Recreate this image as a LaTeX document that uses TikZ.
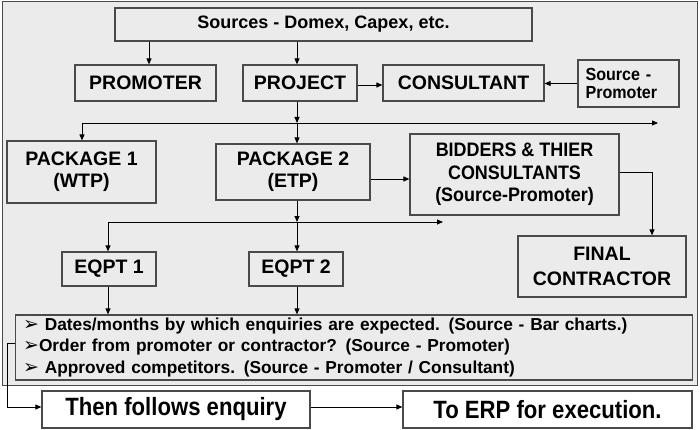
\documentclass[tikz,border=0pt]{standalone}
\usepackage{fontspec}
\setmainfont{Liberation Sans}
\newfontfamily\dejavu{DejaVu Sans}
\newfontfamily\condA[FakeStretch=0.885]{Liberation Sans}
\newfontfamily\condB[FakeStretch=0.92]{Liberation Sans}
\usetikzlibrary{arrows.meta}
\definecolor{bgray}{HTML}{EBEBEB}
\definecolor{boxline}{HTML}{4A4A4A}
\newcommand{\blt}{{\dejavu\mdseries\fontsize{19}{19}\selectfont ➢}}
\begin{document}
\begin{tikzpicture}[x=1pt,y=-1pt,
  box/.style={draw=boxline, line width=1.2pt, fill=bgray, inner sep=0pt, align=center,
    font=\bfseries\fontsize{19.5}{22}\selectfont},
  arr/.style={draw=black, line width=0.9pt, -{Triangle[length=6pt,width=5pt]}},
  ln/.style={draw=black, line width=0.9pt}]
\useasboundingbox (0,0) rectangle (700,430);
\fill[white] (0,0) rectangle (700,430);
\draw[boxline, line width=1pt, fill=bgray] (2,1.5) rectangle (697.5,385);

% boxes
\node[box, minimum width=417pt, minimum height=33pt, font=\bfseries\fontsize{18}{20}\selectfont] (src) at (323.5,24.5) {Sources - Domex, Capex, etc.};
\node[box, minimum width=141pt, minimum height=36pt] (prom) at (145.5,83) {PROMOTER};
\node[box, minimum width=114pt, minimum height=36pt] (proj) at (300,83) {PROJECT};
\node[box, minimum width=161pt, minimum height=36pt] (cons) at (463.5,83) {CONSULTANT};
\node[box, minimum width=101pt, minimum height=47pt, align=left, text width=86pt,
  font=\condB\bfseries\fontsize{17.5}{18}\selectfont] (srcp) at (628.5,83.5) {Source -\\Promoter};
\node[box, minimum width=149pt, minimum height=62pt, font=\bfseries\fontsize{19.5}{21.7}\selectfont] (pk1) at (81.5,172) {PACKAGE 1\\(WTP)};
\node[box, minimum width=154pt, minimum height=56pt, font=\bfseries\fontsize{19.5}{21.7}\selectfont] (pk2) at (293,172) {PACKAGE 2\\(ETP)};
\node[box, minimum width=209pt, minimum height=81pt, font=\condB\bfseries\fontsize{19.5}{22.5}\selectfont] (bid) at (514.5,174.5) {BIDDERS \& THIER\\CONSULTANTS\\(Source-Promoter)};
\node[box, minimum width=168pt, minimum height=61pt, font=\bfseries\fontsize{19.5}{25}\selectfont] (fin) at (602,266.5) {FINAL\\CONTRACTOR};
\node[box, minimum width=94pt, minimum height=34pt] (eq1) at (109,269) {EQPT 1};
\node[box, minimum width=94pt, minimum height=34pt] (eq2) at (296,269) {EQPT 2};
\node[box, minimum width=677pt, minimum height=65pt, align=left, anchor=west, inner xsep=6pt,
  text width=662pt, font=\bfseries\fontsize{17.3}{21.5}\selectfont] (bul) at (15,347.5)
  {\blt\ Dates/months by which enquiries are expected. (Source - Bar charts.)\\
   \blt Order from promoter or contractor? (Source - Promoter)\\
   \blt\ Approved competitors. (Source - Promoter / Consultant)};
\node[box, fill=white, minimum width=268pt, minimum height=37pt, font=\condA\bfseries\fontsize{25}{26}\selectfont] (then) at (176,409.5) {Then follows enquiry};
\node[box, fill=white, minimum width=289pt, minimum height=37pt, font=\condA\bfseries\fontsize{25}{26}\selectfont] (erp) at (547.5,409.5) {To ERP for execution.};

% helper coordinates
\coordinate (xa) at (149,0);
\coordinate (xb) at (297,0);
\coordinate (xc) at (82,0);
\coordinate (xd) at (108,0);
\coordinate (xf) at (652,0);
\coordinate (j1) at (297,123);
\coordinate (j1l) at (82,123);
\coordinate (j1r) at (658,123);
\coordinate (j2) at (297,222);
\coordinate (j2l) at (108,222);
\coordinate (j2r) at (443,222);
\coordinate (ya) at (0,85);
\coordinate (yb) at (0,179);
\coordinate (yc) at (0,172);
\coordinate (yd) at (0,343);
\coordinate (bl) at (7,343);
\coordinate (bb) at (7,407);

% connectors
\draw[arr] (src.south -| xa) -- (prom.north -| xa);
\draw[arr] (src.south -| xb) -- (proj.north -| xb);
\draw[arr] (proj.east |- ya) -- (cons.west |- ya);
\draw[arr] (srcp.west) -- (cons.east |- srcp.west);
\draw[arr] (proj.south -| xb) -- (j1);
\draw[arr] (j1l) -- (j1r);
\draw[arr] (j1l) -- (pk1.north -| xc);
\draw[arr] (j1) -- (pk2.north -| xb);
\draw[arr] (pk2.east |- yb) -- (bid.west |- yb);
\draw[arr] (bid.east |- yc) -| (fin.north -| xf);
\draw[arr] (pk2.south -| xb) -- (j2);
\draw[arr] (j2l) -- (j2r);
\draw[arr] (j2l) -- (eq1.north -| xd);
\draw[arr] (j2) -- (eq2.north -| xb);
\draw[arr] (eq1.south -| xd) -- (bul.north -| xd);
\draw[arr] (eq2.south -| xb) -- (bul.north -| xb);
\draw[arr] (bul.west |- yd) -- (bl) -- (bb) -- (then.west |- bb);
\draw[arr] (then.east |- bb) -- (erp.west |- bb);
\end{tikzpicture}
\end{document}
